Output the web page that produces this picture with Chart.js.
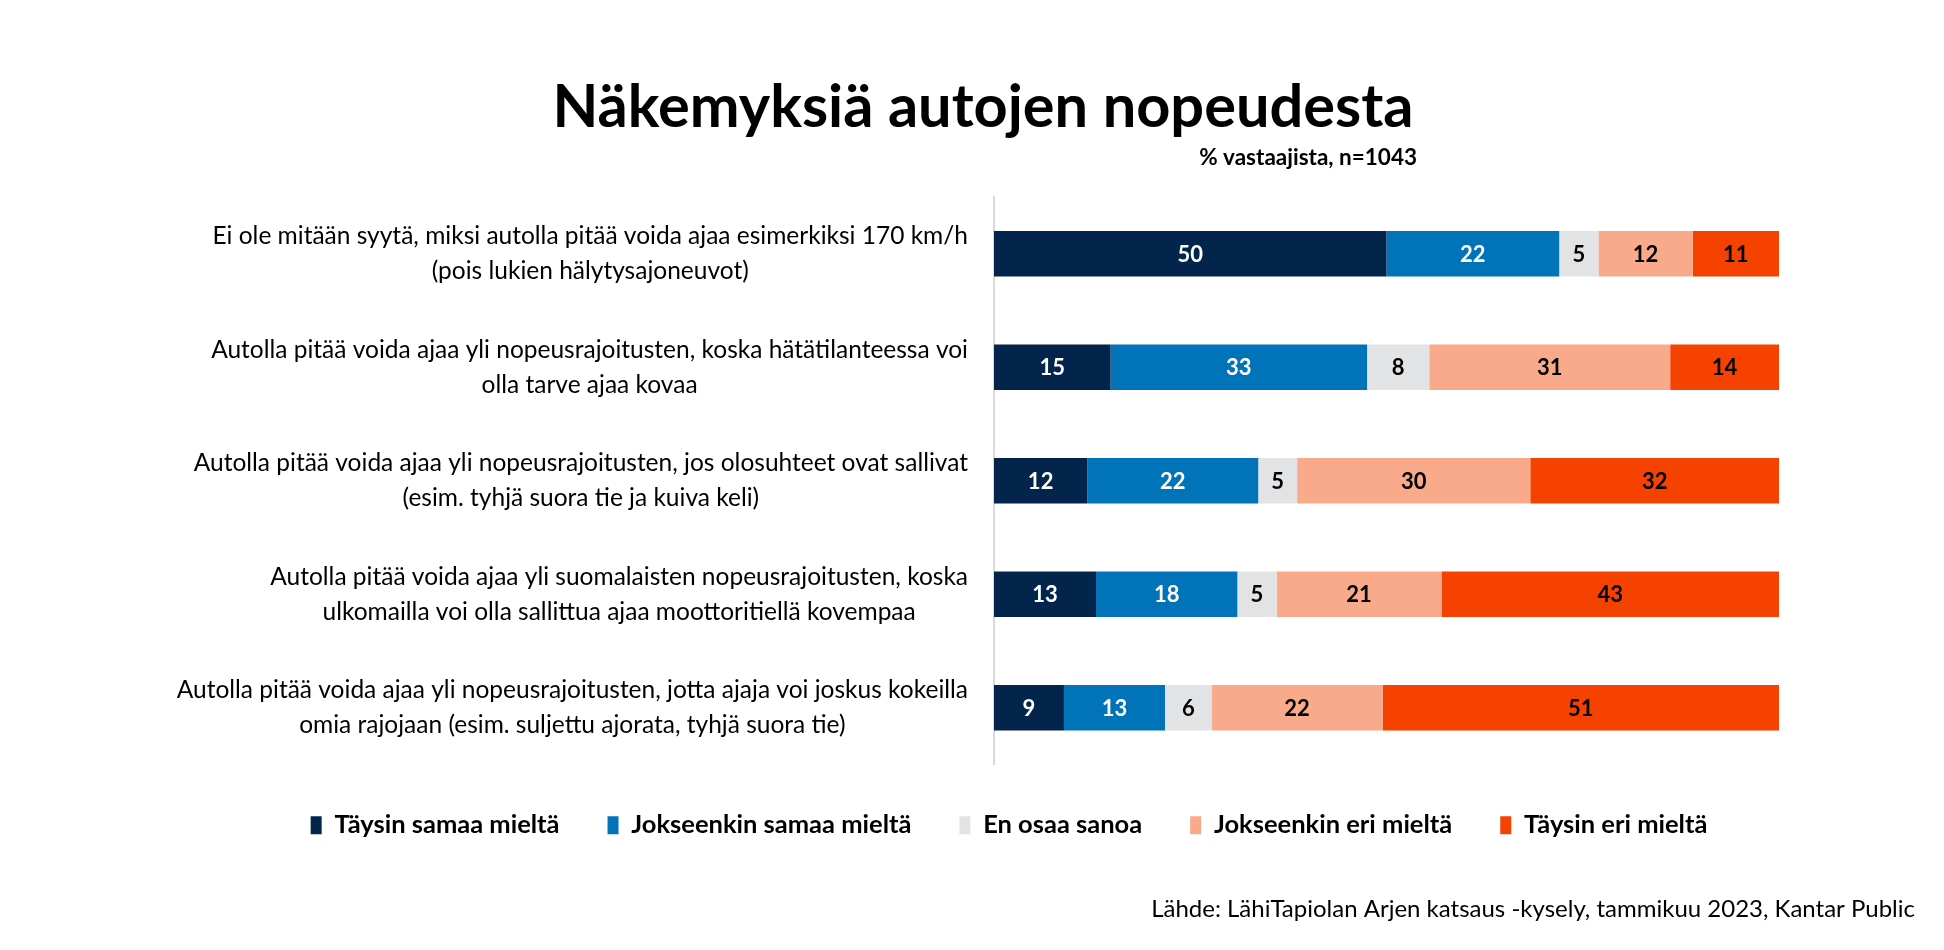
<!DOCTYPE html>
<html>
<head>
<meta charset="utf-8">
<script src="https://cdn.jsdelivr.net/npm/chart.js@4.4.0/dist/chart.umd.min.js"></script>
<style>
  html, body { margin: 0; padding: 0; background: #fff; }
</style>
</head>
<body>
<canvas id="grafica" width="1944" height="950"></canvas>
<script>
const titulo = 'Näkemyksiä autojen nopeudesta'
const subtitulo = '% vastaajista, n=1043'
const fuente = 'Lähde: LähiTapiolan Arjen katsaus -kysely, tammikuu 2023, Kantar Public'

const labels = [
  ['Ei ole mitään syytä, miksi autolla pitää voida ajaa esimerkiksi 170 km/h', '(pois lukien hälytysajoneuvot)'],
  ['Autolla pitää voida ajaa yli nopeusrajoitusten, koska hätätilanteessa voi', 'olla tarve ajaa kovaa'],
  ['Autolla pitää voida ajaa yli nopeusrajoitusten, jos olosuhteet ovat sallivat', '(esim. tyhjä suora tie ja kuiva keli)'],
  ['Autolla pitää voida ajaa yli suomalaisten nopeusrajoitusten, koska', 'ulkomailla voi olla sallittua ajaa moottoritiellä kovempaa'],
  ['Autolla pitää voida ajaa yli nopeusrajoitusten, jotta ajaja voi joskus kokeilla', 'omia rajojaan (esim. suljettu ajorata, tyhjä suora tie)']
]
const series = ['Täysin samaa mieltä', 'Jokseenkin samaa mieltä', 'En osaa sanoa', 'Jokseenkin eri mieltä', 'Täysin eri mieltä']
const taysinSamaa = [50, 15, 12, 13, 9]
const jokseenkinSamaa = [22, 33, 22, 18, 13]
const enOsaa = [5, 8, 5, 5, 6]
const jokseenkinEri = [12, 31, 30, 21, 22]
const taysinEri = [11, 14, 32, 43, 51]

const colores = ['#03254c', '#0073b9', '#e2e3e5', '#f9aa8a', '#f64200']
const colorTexto = ['#fff', '#fff', '#000', '#000', '#000']
const FONT = 'Lato, "Open Sans", sans-serif'

const valores = [taysinSamaa, jokseenkinSamaa, enOsaa, jokseenkinEri, taysinEri]
// rounded values sum to 100 or 101, bars are drawn as share of row total
const totales = labels.map((l, i) => valores.reduce((s, v) => s + v[i], 0))

const datasets = valores.map((arr, d) => ({
  label: series[d],
  data: arr.map((v, i) => v / totales[i] * 100),
  backgroundColor: colores[d],
  borderWidth: 0,
  categoryPercentage: 0.4,
  barPercentage: 1
}))

// category labels: block right aligned, lines centered inside block
const etiquetasY = {
  id: 'etiquetasY',
  afterDraw(chart) {
    const c = chart.ctx
    const y = chart.scales.y
    c.save()
    c.font = '24.5px ' + FONT
    c.fillStyle = '#000'
    c.textAlign = 'center'
    c.textBaseline = 'middle'
    const derecha = y.right - 26
    const alto = 35
    labels.forEach((lineas, i) => {
      const ancho = Math.max(...lineas.map(t => c.measureText(t).width))
      const cx = derecha - ancho / 2
      const cy = y.getPixelForTick(i)
      lineas.forEach((t, k) => {
        c.fillText(t, cx, cy + (k - (lineas.length - 1) / 2) * alto)
      })
    })
    c.restore()
  }
}

const numeros = {
  id: 'numeros',
  afterDatasetsDraw(chart) {
    const c = chart.ctx
    c.save()
    c.font = 'bold 22px ' + FONT
    c.textAlign = 'center'
    c.textBaseline = 'middle'
    valores.forEach((arr, d) => {
      const meta = chart.getDatasetMeta(d)
      c.fillStyle = colorTexto[d]
      meta.data.forEach((el, i) => {
        c.fillText(arr[i], (el.x + el.base) / 2, el.y + 1)
      })
    })
    c.restore()
  }
}

const textos = {
  id: 'textos',
  afterDraw(chart) {
    const c = chart.ctx
    c.save()
    c.fillStyle = '#000'
    c.textBaseline = 'middle'
    c.textAlign = 'center'
    c.font = 'bold 59.5px ' + FONT
    c.fillText(titulo, 983, 108)
    c.textAlign = 'right'
    c.font = 'bold 22.5px ' + FONT
    c.fillText(subtitulo, 1417, 158)
    c.font = '24px ' + FONT
    c.fillText(fuente, 1915, 909)
    c.restore()
  }
}

const ctx = document.getElementById('grafica')

new Chart(ctx, {
  type: 'bar',
  data: {
    labels: labels,
    datasets: datasets
  },
  options: {
    indexAxis: 'y',
    responsive: false,
    animation: false,
    layout: {
      padding: { top: 197, left: 239, right: 165, bottom: 102 }
    },
    scales: {
      x: {
        stacked: true,
        min: 0,
        max: 100,
        display: false
      },
      y: {
        stacked: true,
        grid: { display: false },
        border: { display: true, color: '#d9d9d9', width: 2 },
        ticks: { display: false },
        afterFit(scale) { scale.width = 755 }
      }
    },
    plugins: {
      legend: {
        position: 'bottom',
        labels: {
          font: { family: FONT, size: 25.5, weight: 'bold' },
          color: '#000',
          boxWidth: 11,
          boxHeight: 18,
          padding: 48
        }
      },
      tooltip: { enabled: false }
    }
  },
  plugins: [etiquetasY, numeros, textos]
});
</script>
</body>
</html>
